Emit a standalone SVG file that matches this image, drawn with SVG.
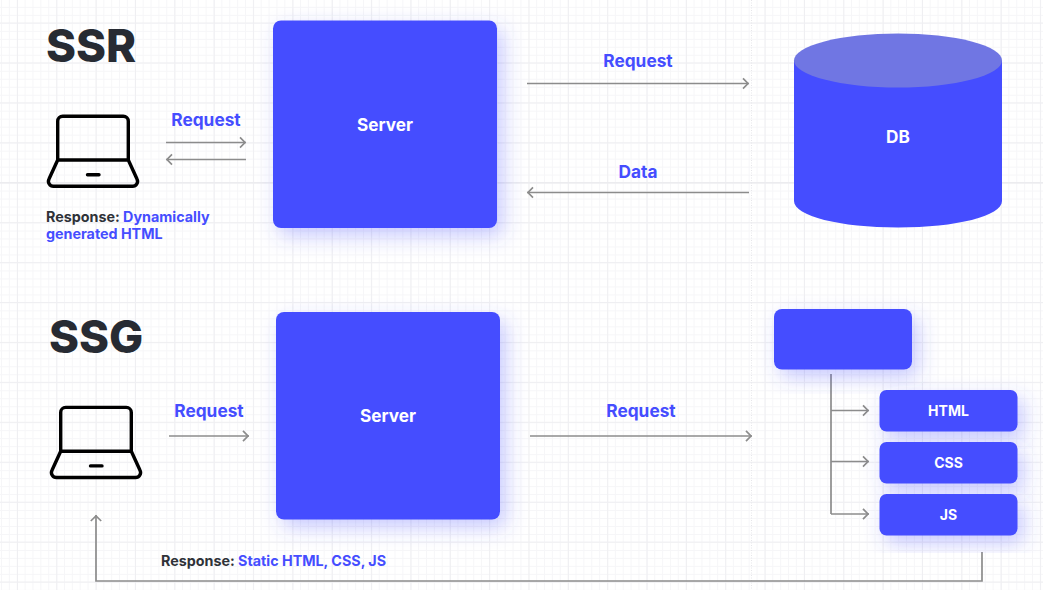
<svg xmlns="http://www.w3.org/2000/svg" width="1043" height="615" viewBox="0 0 1043 615">
<defs>
<pattern id="minor" width="7.87" height="7.986" patternUnits="userSpaceOnUse" x="1" y="6.9"><path d="M.5 0V7.986M0 .5H7.87" fill="none" stroke="#f6f6f8" stroke-width="1"/></pattern>
<pattern id="major" width="39.35" height="39.93" patternUnits="userSpaceOnUse" x="17" y="22.5"><path d="M.5 0V39.93M0 .5H39.35" fill="none" stroke="#efeff2" stroke-width="1"/></pattern>
<filter id="sh" x="-30%" y="-30%" width="170%" height="170%"><feDropShadow dx="6" dy="8" stdDeviation="10" flood-color="#454dff" flood-opacity=".3"/></filter>
<marker id="a" markerWidth="12" markerHeight="14" refX="10" refY="7" orient="auto-start-reverse" markerUnits="userSpaceOnUse" overflow="visible"><path d="M4 1.800L9 7L4 12.200" fill="none" stroke="#8c8c8c" stroke-width="1.700"/></marker>
<symbol id="laptop" viewBox="0 0 94 76" overflow="visible"><path d="M11.700 47V8.200a5 5 0 0 1 5-5H77.300a5 5 0 0 1 5 5V47M11.700 47H82.300L91 66a5 5 0 0 1-4.500 7.300H7.500a5 5 0 0 1-4.500-7.300ZM41.500 61.700H53" fill="none" stroke="#000" stroke-width="3.400" stroke-linecap="round" stroke-linejoin="round"/></symbol>
</defs>
<style>
text{font-family:Inter,"Liberation Sans",sans-serif;font-weight:700}
.t{font-size:45.500px;font-weight:800;fill:#272b33}
.n{font-size:17.200px;fill:#fff;text-anchor:middle}
.s{font-size:14px;fill:#fff;text-anchor:middle}
.l{font-size:17.300px;fill:#454dff;text-anchor:middle}
.r{font-size:14.300px;fill:#454dff}
.d{fill:#2f3238}
.b{fill:#454dff}
.c{fill:none;stroke:#8c8c8c;stroke-width:1.700}
.g{stroke:#ececef;stroke-width:1.500;fill:none}
</style>
<rect width="1043" height="615" fill="#fff"/>
<rect width="1043" height="590" fill="url(#minor)"/>
<rect width="1043" height="590" fill="url(#major)"/>
<path class="g" d="M0 182.700H1043"/>
<path d="M751.500 0V590" fill="none" stroke="#e6e6ea" stroke-dasharray="1 1.500"/>
<g id="connectors">
<path class="c" marker-end="url(#a)" d="M166 142.500H246"/>
<path class="c" marker-start="url(#a)" d="M166 159.500H246"/>
<path class="c" marker-end="url(#a)" d="M527 83.500H749"/>
<path class="c" marker-start="url(#a)" d="M527 192.500H749"/>
<path class="c" marker-end="url(#a)" d="M169 436H249"/>
<path class="c" marker-end="url(#a)" d="M530 436H752"/>
<path class="c" d="M831 374V514"/>
<path class="c" marker-end="url(#a)" d="M831 410.500H869"/>
<path class="c" marker-end="url(#a)" d="M831 461.500H869"/>
<path class="c" marker-end="url(#a)" d="M831 514H869"/>
<path class="c" marker-end="url(#a)" d="M982 552V581H96V515"/>
</g>
<g id="ssr-title"><text class="t" x="46" y="61.500">SSR</text></g>
<g id="ssr-client"><use href="#laptop" x="46" y="113" width="94" height="76"/></g>
<g id="ssr-request"><text class="l" x="206" y="125.500">Request</text></g>
<g id="ssr-response"><text class="r" x="46" y="221.500"><tspan class="d">Response: </tspan>Dynamically</text><text class="r" x="46" y="238.500">generated HTML</text></g>
<g id="ssr-server"><rect class="b" x="273" y="20.500" width="224" height="207.500" rx="8" filter="url(#sh)"/><text class="n" x="385" y="130.500">Server</text></g>
<g id="ssr-request-db"><text class="l" x="638" y="66.500">Request</text></g>
<g id="ssr-data"><text class="l" x="638" y="177.500">Data</text></g>
<g id="db"><path class="b" d="M794 61V201C794 216 840 227.500 898 227.500S1002 216 1002 201V61Z"/><ellipse cx="898" cy="60.500" rx="104" ry="27" fill="#7076e3"/><text class="n" x="898" y="142.500">DB</text></g>
<g id="ssg-title"><text class="t" x="49" y="353">SSG</text></g>
<g id="ssg-client"><use href="#laptop" x="49" y="404.200" width="94" height="76"/></g>
<g id="ssg-request"><text class="l" x="209" y="417">Request</text></g>
<g id="ssg-server"><rect class="b" x="276" y="312" width="224" height="207.500" rx="8" filter="url(#sh)"/><text class="n" x="388" y="422">Server</text></g>
<g id="ssg-request-out"><text class="l" x="641" y="417">Request</text></g>
<g id="ssg-folder"><rect class="b" x="774" y="309" width="138" height="60.500" rx="8" filter="url(#sh)"/></g>
<g id="html"><rect class="b" x="879.500" y="390" width="138" height="41.500" rx="7" filter="url(#sh)"/><text class="s" x="948.500" y="415.500">HTML</text></g>
<g id="css"><rect class="b" x="879.500" y="442" width="138" height="41.500" rx="7" filter="url(#sh)"/><text class="s" x="948.500" y="467.500">CSS</text></g>
<g id="js"><rect class="b" x="879.500" y="494" width="138" height="41.500" rx="7" filter="url(#sh)"/><text class="s" x="948.500" y="519.500">JS</text></g>
<g id="ssg-response"><text class="r" x="161" y="565.500"><tspan class="d">Response: </tspan>Static HTML, CSS, JS</text></g>
</svg>
